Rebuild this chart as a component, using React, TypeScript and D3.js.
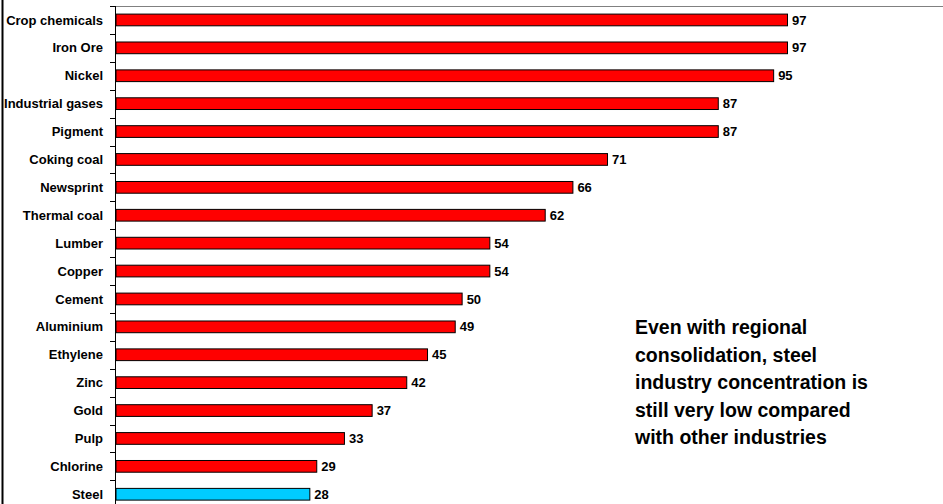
import React from "react";
import * as d3 from "d3";

const categories = [
  "Crop chemicals", "Iron Ore", "Nickel", "Industrial gases", "Pigment",
  "Coking coal", "Newsprint", "Thermal coal", "Lumber", "Copper", "Cement",
  "Aluminium", "Ethylene", "Zinc", "Gold", "Pulp", "Chlorine", "Steel",
];
const values = [97, 97, 95, 87, 87, 71, 66, 62, 54, 54, 50, 49, 45, 42, 37, 33, 29, 28];
const highlight = ["Steel"];
const noteLines = [
  "Even with regional",
  "consolidation, steel",
  "industry concentration is",
  "still very low compared",
  "with other industries",
];

const W = 943;
const H = 504;
const FONT = "Arial, 'Liberation Sans', sans-serif";

export default function App() {
  const x0 = 115.5;
  const x = d3.scaleLinear().domain([0, 97]).range([x0, 787]);
  const y = d3.scaleBand().domain(categories).range([6, 6 + 18 * 27.9]).paddingInner(0.58).paddingOuter(0.29);
  const step = y.step();
  const tickYs = d3.range(0, categories.length + 1).map((i) => 6 + i * step);

  return (
    <svg width={W} height={H} style={{ position: "absolute", left: 0, top: 0, background: "#fff" }}>
      <rect x={0} y={0} width={W} height={H} fill="#fff" />
      <line x1={2.5} x2={2.5} y1={0} y2={H} stroke="#000" strokeWidth={2} />
      <line x1={x0} x2={W} y1={6.5} y2={6.5} stroke="#808080" strokeWidth={1} />
      <line x1={x0} x2={x0} y1={6} y2={H} stroke="#000" strokeWidth={1} />
      {tickYs.map((t, i) => (
        <line key={i} x1={110} x2={x0} y1={Math.round(t) + 0.5} y2={Math.round(t) + 0.5} stroke="#000" strokeWidth={1} />
      ))}
      {categories.map((c, i) => {
        const yy = y(c)!;
        const bh = y.bandwidth();
        const isHi = highlight.includes(c);
        return (
          <g key={c}>
            <rect
              x={x(0) + 0.5}
              y={yy}
              width={x(values[i]) - x(0)}
              height={bh}
              fill={isHi ? "#00ccff" : "#ff0000"}
              stroke="#000"
              strokeWidth={1}
            />
            <text
              x={103}
              y={yy + bh / 2}
              dy="0.35em"
              textAnchor="end"
              fontFamily={FONT}
              fontWeight="bold"
              fontSize={13}
              fill="#000"
            >
              {c}
            </text>
            <text
              x={x(values[i]) + 5}
              y={yy + bh / 2}
              dy="0.35em"
              fontFamily={FONT}
              fontWeight="bold"
              fontSize={13}
              fill="#000"
            >
              {values[i]}
            </text>
          </g>
        );
      })}
      {noteLines.map((l, i) => (
        <text
          key={i}
          x={635}
          y={334 + i * 27.6}
          fontFamily={FONT}
          fontWeight="bold"
          fontSize={19.5}
          fill="#000"
        >
          {l}
        </text>
      ))}
    </svg>
  );
}
